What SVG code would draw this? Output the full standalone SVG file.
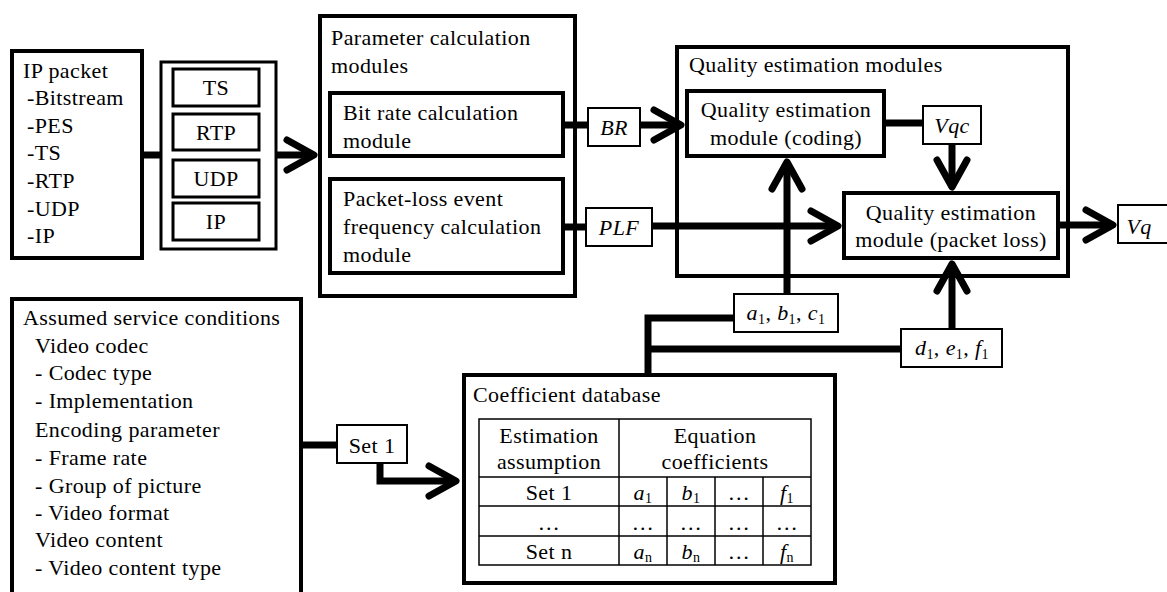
<svg xmlns="http://www.w3.org/2000/svg" width="1167" height="592" viewBox="0 0 1167 592" font-family="'Liberation Serif', 'Tinos', 'DejaVu Serif', serif">
<style>
text{font-family:'Liberation Serif','Tinos','DejaVu Serif',serif;font-size:22px;fill:#000;letter-spacing:0.4px}
.c{text-anchor:middle}
.i{font-style:italic}
.sub{font-size:14px;font-style:normal}
.big{fill:#fff;stroke:#000;stroke-width:4}
.mid{fill:#fff;stroke:#000;stroke-width:3}
.lbl{fill:#fff;stroke:#000;stroke-width:2}
.tbl{fill:none;stroke:#000;stroke-width:1.5}
.wire{fill:none;stroke:#000;stroke-width:7;stroke-linejoin:miter}
</style>
<defs>
<marker id="ah" markerUnits="userSpaceOnUse" markerWidth="40" markerHeight="40" viewBox="-35 -20 40 40" refX="0" refY="0" orient="auto" overflow="visible">
<path d="M-27,-15 L0,0 L-27,15" fill="none" stroke="#000" stroke-width="7" stroke-linecap="round" stroke-linejoin="round"/>
</marker>
</defs>
<rect width="1167" height="592" fill="#fff"/>

<g id="ip-packet">
<rect class="big" x="12" y="51" width="130" height="207"/>
<text x="23" y="78">IP packet</text>
<text x="27" y="105">-Bitstream</text>
<text x="27" y="133">-PES</text>
<text x="27" y="160">-TS</text>
<text x="27" y="188">-RTP</text>
<text x="27" y="216">-UDP</text>
<text x="27" y="243">-IP</text>
</g>

<g id="protocol-stack">
<rect class="mid" x="161" y="62" width="115" height="187"/>
<rect class="mid" x="173" y="69" width="86" height="37"/>
<text class="c" x="216" y="95">TS</text>
<rect class="mid" x="173" y="114" width="86" height="36"/>
<text class="c" x="216" y="140">RTP</text>
<rect class="mid" x="173" y="160" width="86" height="37"/>
<text class="c" x="216" y="186">UDP</text>
<rect class="mid" x="173" y="203" width="86" height="37"/>
<text class="c" x="216" y="229">IP</text>
</g>

<g id="parameter-calculation">
<rect class="big" x="320" y="16" width="255" height="280"/>
<text x="331" y="45">Parameter calculation</text>
<text x="331" y="73">modules</text>
</g>

<g id="bit-rate-module">
<rect class="big" x="330" y="93" width="233" height="63"/>
<text x="343" y="120">Bit rate calculation</text>
<text x="343" y="148">module</text>
</g>

<g id="packet-loss-module">
<rect class="big" x="330" y="179" width="233" height="94"/>
<text x="343" y="206">Packet-loss event</text>
<text x="343" y="234">frequency calculation</text>
<text x="343" y="262">module</text>
</g>

<g id="label-br">
<rect class="lbl" x="588" y="108" width="52" height="38"/>
<text class="c i" x="614" y="135">BR</text>
</g>

<g id="label-plf">
<rect class="lbl" x="586" y="208" width="66" height="38"/>
<text class="c i" x="619" y="235">PLF</text>
</g>

<g id="quality-estimation">
<rect class="big" x="677" y="47" width="391" height="229"/>
<text x="689" y="72">Quality estimation modules</text>
</g>

<g id="quality-coding">
<rect class="big" x="687" y="91" width="197" height="65"/>
<text class="c" x="786" y="117">Quality estimation</text>
<text class="c" x="786" y="145">module (coding)</text>
</g>

<g id="label-vqc">
<rect class="lbl" x="923" y="106" width="58" height="38"/>
<text class="c i" x="952" y="133">Vqc</text>
</g>

<g id="quality-packet-loss">
<rect class="big" x="844" y="193" width="214" height="65"/>
<text class="c" x="951" y="220">Quality estimation</text>
<text class="c" x="951" y="247">module (packet loss)</text>
</g>

<g id="label-vq">
<rect class="lbl" x="1118" y="205" width="52" height="38"/>
<text class="c i" x="1139" y="234">Vq</text>
</g>

<g id="label-abc">
<rect class="lbl" x="734" y="294" width="104" height="38"/>
<text class="c" x="786" y="320"><tspan class="i">a</tspan><tspan class="sub" dy="4">1</tspan><tspan dy="-4">, </tspan><tspan class="i">b</tspan><tspan class="sub" dy="4">1</tspan><tspan dy="-4">, </tspan><tspan class="i">c</tspan><tspan class="sub" dy="4">1</tspan></text>
</g>

<g id="label-def">
<rect class="lbl" x="901" y="329" width="101" height="38"/>
<text class="c" x="952" y="355"><tspan class="i">d</tspan><tspan class="sub" dy="4">1</tspan><tspan dy="-4">, </tspan><tspan class="i">e</tspan><tspan class="sub" dy="4">1</tspan><tspan dy="-4">, </tspan><tspan class="i">f</tspan><tspan class="sub" dy="4">1</tspan></text>
</g>

<g id="assumed-conditions">
<rect class="big" x="12" y="299" width="289" height="320"/>
<text x="23" y="325">Assumed service conditions</text>
<text x="35" y="353">Video codec</text>
<text x="35" y="380">- Codec type</text>
<text x="35" y="408">- Implementation</text>
<text x="35" y="437">Encoding parameter</text>
<text x="35" y="465">- Frame rate</text>
<text x="35" y="493">- Group of picture</text>
<text x="35" y="520">- Video format</text>
<text x="35" y="547">Video content</text>
<text x="35" y="575">- Video content type</text>
</g>

<g id="label-set1">
<rect class="lbl" x="337" y="425" width="70" height="38"/>
<text class="c" x="372" y="453">Set 1</text>
</g>

<g id="coefficient-database">
<rect class="big" x="464" y="375" width="371" height="208"/>
<text x="473" y="402">Coefficient database</text>
<rect class="tbl" x="479" y="419" width="332" height="146"/>
<line class="tbl" x1="479" y1="477" x2="811" y2="477"/>
<line class="tbl" x1="479" y1="506" x2="811" y2="506"/>
<line class="tbl" x1="479" y1="536" x2="811" y2="536"/>
<line class="tbl" x1="619" y1="419" x2="619" y2="565"/>
<line class="tbl" x1="667" y1="477" x2="667" y2="565"/>
<line class="tbl" x1="715" y1="477" x2="715" y2="565"/>
<line class="tbl" x1="763" y1="477" x2="763" y2="565"/>
<text class="c" x="549" y="443">Estimation</text>
<text class="c" x="549" y="469">assumption</text>
<text class="c" x="715" y="443">Equation</text>
<text class="c" x="715" y="469">coefficients</text>
<text class="c" x="549" y="500">Set 1</text>
<text class="c" x="549" y="530">…</text>
<text class="c" x="549" y="559">Set n</text>
<text class="c" x="643" y="500"><tspan class="i">a</tspan><tspan class="sub" dy="3">1</tspan></text>
<text class="c" x="691" y="500"><tspan class="i">b</tspan><tspan class="sub" dy="3">1</tspan></text>
<text class="c" x="739" y="500">…</text>
<text class="c" x="787" y="500"><tspan class="i">f</tspan><tspan class="sub" dy="3">1</tspan></text>
<text class="c" x="643" y="530">…</text>
<text class="c" x="691" y="530">…</text>
<text class="c" x="739" y="530">…</text>
<text class="c" x="787" y="530">…</text>
<text class="c" x="643" y="559"><tspan class="i">a</tspan><tspan class="sub" dy="3">n</tspan></text>
<text class="c" x="691" y="559"><tspan class="i">b</tspan><tspan class="sub" dy="3">n</tspan></text>
<text class="c" x="739" y="559">…</text>
<text class="c" x="787" y="559"><tspan class="i">f</tspan><tspan class="sub" dy="3">n</tspan></text>
</g>

<g id="connectors">
<line class="wire" x1="142" y1="155" x2="161" y2="155"/>
<line class="wire" x1="276" y1="155" x2="314" y2="155" marker-end="url(#ah)"/>
<line class="wire" x1="563" y1="125" x2="588" y2="125"/>
<line class="wire" x1="640" y1="125" x2="681" y2="125" marker-end="url(#ah)"/>
<line class="wire" x1="563" y1="227" x2="586" y2="227"/>
<line class="wire" x1="652" y1="226" x2="838" y2="226" marker-end="url(#ah)"/>
<line class="wire" x1="884" y1="123" x2="923" y2="123"/>
<line class="wire" x1="952" y1="144" x2="952" y2="187" marker-end="url(#ah)"/>
<line class="wire" x1="1058" y1="225" x2="1113" y2="225" marker-end="url(#ah)"/>
<line class="wire" x1="787" y1="294" x2="787" y2="162" marker-end="url(#ah)"/>
<line class="wire" x1="952" y1="329" x2="952" y2="264" marker-end="url(#ah)"/>
<polyline class="wire" points="734,318 648,318 648,375"/>
<line class="wire" x1="648" y1="349" x2="901" y2="349"/>
<line class="wire" x1="301" y1="445" x2="337" y2="445"/>
<polyline class="wire" points="380,463 380,481 456,481" stroke-linejoin="round" marker-end="url(#ah)"/>
</g>
</svg>
